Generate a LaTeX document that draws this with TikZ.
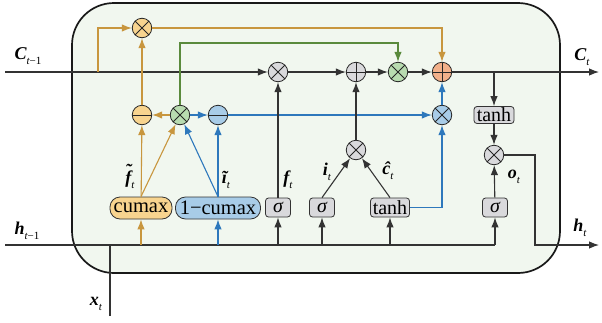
\documentclass[tikz,border=0pt]{standalone}
\usepackage{fontspec}
\setmainfont{Liberation Serif}
\newfontfamily\boxfont{Liberation Serif}
\usetikzlibrary{arrows.meta}
\definecolor{bgc}{HTML}{F1F7EF}
\definecolor{linec}{HTML}{333333}
\definecolor{orl}{HTML}{C8963E}
\definecolor{orf}{HTML}{F8D48F}
\definecolor{grl}{HTML}{5A8A3C}
\definecolor{grf}{HTML}{B8DBB0}
\definecolor{bll}{HTML}{2E78BC}
\definecolor{blf}{HTML}{A8CCE8}
\definecolor{saf}{HTML}{F2B08A}
\definecolor{gyf}{HTML}{D9D9DC}
\newcommand\sbt[1]{\raisebox{-0.28em}{\fontsize{11}{11}\selectfont\mdseries\itshape #1}}
\newcommand\lfont{\rmfamily\fontsize{18}{18}\selectfont\bfseries\itshape}
\newcommand\tildef{\ooalign{f\cr\hidewidth\raisebox{0.42em}{\char"02DC}\hidewidth\cr}}
\tikzset{
  op/.style={circle, draw=black!85, line width=0.8pt, minimum size=19.5pt, inner sep=0pt},
  otimes/.style={op, path picture={\draw[line width=0.8pt] (path picture bounding box.center) +(45:12pt) -- +(225:12pt) (path picture bounding box.center) +(135:12pt) -- +(-45:12pt);}},
  oplus/.style={op, path picture={\draw[line width=0.8pt] (path picture bounding box.center) +(0:12pt) -- +(180:12pt) (path picture bounding box.center) +(90:12pt) -- +(-90:12pt);}},
  ominus/.style={op, path picture={\draw[line width=0.8pt] (path picture bounding box.center) +(0:12pt) -- +(180:12pt);}},
  gbox/.style={draw=black!80, fill=gyf, line width=0.8pt, rounded corners=3pt, inner sep=0pt, minimum height=19pt, font=\boxfont\fontsize{20}{20}\selectfont},
  pill/.style={draw=black!80, line width=0.8pt, rounded corners=10pt, inner sep=0pt, minimum height=22pt, font=\boxfont\fontsize{20.5}{20}\selectfont},
  cellbox/.style={draw=black!90, line width=1.7pt, fill=bgc, rounded corners=42pt},
  ln/.style={draw=linec, line width=1.1pt},
  tip/.style={-{Latex[length=10pt,width=7.5pt]}},
  arr/.style={ln, tip},
  oarr/.style={draw=orl, line width=1.1pt, tip},
  barr/.style={draw=bll, line width=1.1pt, tip},
  garr/.style={draw=grl, line width=1.1pt, tip},
  lbl/.style={inner sep=0pt, font=\lfont},
}
\begin{document}
\begin{tikzpicture}[x=1pt,y=-1pt]
\useasboundingbox (0,0) rectangle (602,322);
% cell
\draw[cellbox] (72,3) rectangle (560,273);
% operators
\node[otimes, fill=orf] (ot) at (142,28) {};
\node[otimes, fill=gyf] (mf) at (278,72) {};
\node[oplus, fill=gyf] (pl) at (356,72) {};
\node[otimes, fill=grf] (gm) at (398,72) {};
\node[oplus, fill=saf] (op) at (442,72) {};
\node[ominus, fill=orf] (om) at (142,115) {};
\node[otimes, fill=grf] (gx) at (180,115) {};
\node[ominus, fill=blf] (bm) at (218,115) {};
\node[otimes, fill=blf] (bx) at (442,115) {};
\node[otimes, fill=gyf] (mi) at (356,150) {};
\node[otimes, fill=gyf] (mo) at (494,155) {};
% boxes
\node[pill, fill=orf, minimum width=62pt] (cum) at (141,208) {cumax};
\node[pill, fill=blf, minimum width=85pt] (icum) at (218,208) {1−cumax};
\node[gbox, minimum width=25pt] (sf) at (278,207.5) {\itshape σ};
\node[gbox, minimum width=25pt] (si) at (322,207.5) {\itshape σ};
\node[gbox, minimum width=39pt] (th) at (390,207.5) {tanh};
\node[gbox, minimum width=25pt] (so) at (495,207.5) {\itshape σ};
\node[gbox, minimum width=40pt, minimum height=17pt] (to) at (494,115) {tanh};
% coordinates
\coordinate (cin) at (5,72);
\coordinate (ob) at (98,72);
\coordinate (gc) at (398,43);
\coordinate (cout) at (599,72);
\coordinate (tb) at (494,72);
\coordinate (hin) at (5,245);
\coordinate (hend) at (495,245);
\coordinate (hc) at (535,245);
\coordinate (hout) at (599,245);
\coordinate (xin) at (110,316);
\coordinate (xj) at (110,245);
\coordinate (h1) at (141,245);
\coordinate (h2) at (218,245);
\coordinate (h3) at (278,245);
\coordinate (h4) at (322,245);
\coordinate (h5) at (390,245);
% cell state path
\draw[arr] (cin) -- (mf);
\draw[arr] (mf) -- (pl);
\draw[arr] (pl) -- (gm);
\draw[arr] (gm) -- (op);
\draw[arr] (op) -- (cout);
\draw[oarr] (ob) |- (ot);
\draw[oarr] (ot) -| (op);
\draw[garr] (gx) |- (gc) -- (gm);
\draw[arr] (tb) -- (to);
\draw[arr] (to) -- (mo);
\draw[arr] (mo) -| (hc) -- (hout);
% hidden input
\draw[ln] (hin) -- (hend);
\draw[ln] (xin) -- (xj);
\draw[oarr] (h1) -- (cum);
\draw[barr] (h2) -- (icum);
\draw[arr] (h3) -- (sf);
\draw[arr] (h4) -- (si);
\draw[arr] (h5) -- (th);
\draw[arr] (hend) -- (so);
% master gates
\draw[oarr] (cum) -- (om);
\draw[oarr] (cum.north) -- (gx);
\draw[barr] (icum.north) -- (gx);
\draw[barr] (icum) -- (bm);
\draw[oarr] (gx) -- (om);
\draw[barr] (gx) -- (bm);
\draw[barr] (bm) -- (bx);
\draw[barr] (bx) -- (op);
\draw[oarr] (om) -- (ot);
% standard gates
\draw[arr] (sf) -- (mf);
\draw[arr] (si.north) -- (mi);
\draw[arr] (th.north) -- (mi);
\draw[arr] (mi) -- (pl);
\draw[barr] (th) -| (bx);
\draw[arr] (so) -- (mo);
% labels
\node[lbl] (lc0) at (28,56) {C\sbt{t\upshape −1}};
\node[lbl] (lc1) at (582,57) {C\sbt{t}};
\node[lbl] (lh0) at (27,231) {h\sbt{t\upshape −1}};
\node[lbl] (lh1) at (580,228) {h\sbt{t}};
\node[lbl] (lx) at (96,304) {x\sbt{t}};
\node[lbl] (lft) at (130,180) {\tildef\sbt{t}};
\node[lbl] (lit) at (226,180) {ĩ\sbt{t}};
\node[lbl] (lf) at (288,180) {f\sbt{t}};
\node[lbl] (li) at (327,172) {i\sbt{t}};
\node[lbl] (lcc) at (388,171) {ĉ\sbt{t}};
\node[lbl] (lo) at (514,177) {o\sbt{t}};
\end{tikzpicture}
\end{document}
